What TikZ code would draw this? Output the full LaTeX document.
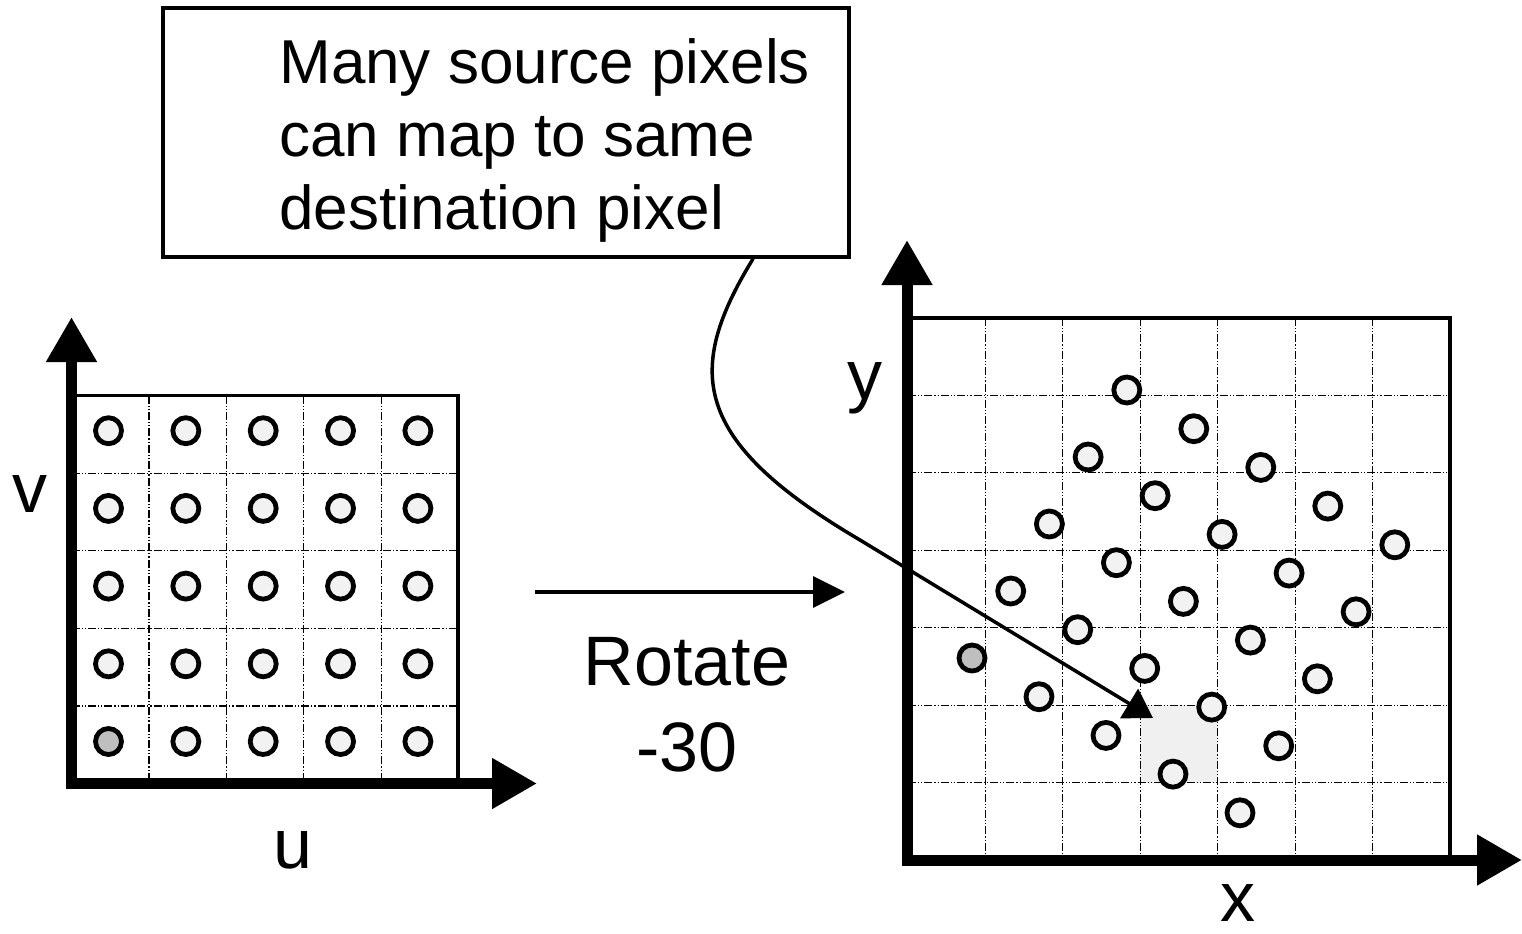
\documentclass[tikz,border=0pt]{standalone}
\usepackage{fontspec}
\setmainfont{Liberation Sans}
\usetikzlibrary{arrows.meta,calc}

\begin{document}
\begin{tikzpicture}[x=0.5pt, y=-0.5pt,
    lbl/.style={inner sep=0pt, font=\fontsize{35}{43}\selectfont},
    frame/.style={line width=1.6pt},
    gridline/.style={line width=0.6pt, dash pattern=on 4pt off 1pt on 0.6pt off 1pt on 0.6pt off 1pt},
    axis/.style={line width=5.5pt, {Triangle[length=22.5pt,width=24pt]}-{Triangle[length=22.5pt,width=24pt]}},
    pix/.style={circle, draw, line width=2.4pt, minimum size=13pt, inner sep=0pt},
    link/.style={line width=1.75pt, -{Triangle[length=16pt,width=15.5pt]}}]
    \useasboundingbox (0,0) rectangle (1522,933);

    % source image u,v
    \foreach \k in {1,...,4} {
        \draw[gridline] ({71.5+77.4*\k},395.5) -- ({71.5+77.4*\k},783.5);
        \draw[gridline] (71.5,{395.5+77.6*\k}) -- (458,{395.5+77.6*\k});
    }
    \draw[frame] (71.5,783.5) |- (458,395.5) -- (458,783.5);
    \draw[axis] (71.5,317) |- (537,783.5);
    \foreach \i in {0,...,4}
        \foreach \j in {0,...,4} {
            \pgfmathtruncatemacro\shade{(\i+\j==0) ? 25 : 5}
            \node[pix, fill=black!\shade] (src-\i-\j) at ({108.5+77.35*\i},{741.5-77.7*\j}) {};
        }
    \node[lbl] (v) at (30,494) {v};
    \node[lbl] (u) at (293,850) {u};

    % rotation step
    \coordinate (rfrom) at (535,592);
    \coordinate (rto) at (845,592);
    \draw[link] (rfrom) -- (rto);
    \node[lbl, align=center] (rot) at (687,705) {Rotate\\-30};

    % destination image x,y
    \fill[black!6] (1140.3,705.1) rectangle (1217.7,782.6);
    \foreach \k in {1,...,6} {
        \draw[gridline] ({908+77.43*\k},318) -- ({908+77.43*\k},860);
        \draw[gridline] (908,{318+77.43*\k}) -- (1450,{318+77.43*\k});
    }
    \draw[frame] (908,860) |- (1450,318) -- (1450,860);
    \draw[axis] (907,240) |- (1522,860);
    \foreach \i in {0,...,4}
        \foreach \j in {0,...,4} {
            \pgfmathtruncatemacro\shade{(\i+\j==0) ? 25 : 5}
            \node[pix, fill=black!\shade] (dst-\i-\j) at ({972+67*\i+38.7*\j},{658+38.7*\i-67*\j}) {};
        }
    \node[lbl] (y) at (865,388) {y};
    \node[lbl] (x) at (1238,903) {x};

    % callout
    \node[frame, draw, minimum width=343pt, minimum height=124.5pt, inner sep=0pt] (note) at (506,132.5) {};
    \node[anchor=west, align=left, inner sep=0pt, font=\fontsize{31}{36.5}\selectfont] (notetext) at (279,140)
        {Many source pixels\\can map to same\\destination pixel};
    \coordinate (hit) at (1153,718);
    \draw[link, -{Triangle[length=14pt,width=17pt]}] ($(note.south west)!0.8586!(note.south east)$)
        .. controls (685,370) and (690,440) .. (860,540) -- (hit);
\end{tikzpicture}
\end{document}
